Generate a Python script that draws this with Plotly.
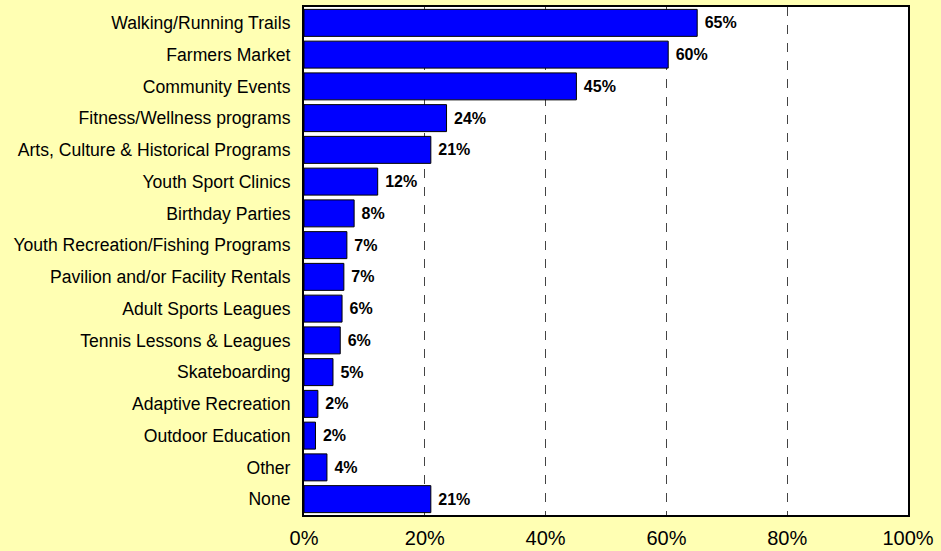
import plotly.graph_objects as go

categories = [
    "Walking/Running Trails", "Farmers Market", "Community Events",
    "Fitness/Wellness programs", "Arts, Culture & Historical Programs",
    "Youth Sport Clinics", "Birthday Parties", "Youth Recreation/Fishing Programs",
    "Pavilion and/or Facility Rentals", "Adult Sports Leagues",
    "Tennis Lessons & Leagues", "Skateboarding", "Adaptive Recreation",
    "Outdoor Education", "Other", "None",
]
values = [0.651, 0.603, 0.451, 0.236, 0.210, 0.122, 0.083, 0.071,
          0.066, 0.063, 0.060, 0.048, 0.023, 0.019, 0.038, 0.210]
labels = ["65%", "60%", "45%", "24%", "21%", "12%", "8%", "7%",
          "7%", "6%", "6%", "5%", "2%", "2%", "4%", "21%"]
x_ticks = [0, 0.2, 0.4, 0.6, 0.8, 1.0]
x_tick_text = ["0%", "20%", "40%", "60%", "80%", "100%"]

FONT = "Liberation Sans, Arial, sans-serif"
BG = "#FFFFB3"

fig = go.Figure(go.Bar(
    x=values, y=categories, orientation="h",
    marker=dict(color="#0000FF", line=dict(color="#000000", width=1)),
    text=[" " + t for t in labels], textposition="outside",
    textfont=dict(family=FONT, size=16, color="#000000", weight="bold"),
    cliponaxis=False, hoverinfo="skip",
))

fig.update_layout(
    width=941, height=551,
    paper_bgcolor=BG, plot_bgcolor="#FFFFFF",
    margin=dict(l=304, r=33, t=7, b=36),
    bargap=0.15,
    showlegend=False,
    font=dict(family=FONT, color="#000000"),
    xaxis=dict(
        range=[0, 1], tickvals=x_ticks, ticktext=x_tick_text,
        tickfont=dict(size=20, family=FONT, color="#000000"),
        showgrid=True, gridcolor="#444444", griddash="dash", gridwidth=1,
        zeroline=False, showline=True, linecolor="#000000", linewidth=2, mirror=True,
        ticks="outside", ticklen=4, tickcolor="rgba(0,0,0,0)", fixedrange=True,
        automargin=False,
    ),
    yaxis=dict(
        autorange="reversed",
        tickfont=dict(size=17.6, family=FONT, color="#000000"),
        showgrid=False, zeroline=False,
        showline=True, linecolor="#000000", linewidth=2, mirror=True,
        ticks="outside", ticklen=8, tickcolor="rgba(0,0,0,0)", fixedrange=True,
        automargin=False,
    ),
)

fig.write_html("out.html", config={"displayModeBar": False},
               post_script="document.body.style.margin='0';")
